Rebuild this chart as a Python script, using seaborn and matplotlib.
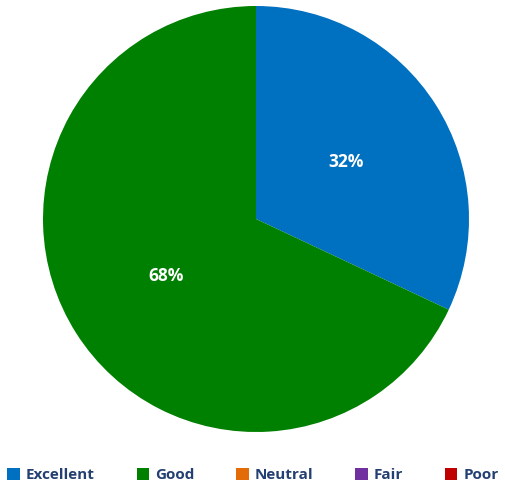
import numpy as np
import matplotlib.pyplot as plt
import seaborn as sns

# rating categories and their share
categories = ["Excellent", "Good", "Neutral", "Fair", "Poor"]
shares = [32, 68, 0, 0, 0]
colors = ["#0070C0", "#008000", "#E36C09", "#7030A0", "#C00000"]

sns.set_style("white")
plt.rcParams["font.family"] = ["Open Sans", "DejaVu Sans"]

fig = plt.figure(figsize=(5.06, 4.84), dpi=100)
ax = fig.add_axes([43 / 506, 52 / 484, 426 / 506, 426 / 484])

def pct(v):
    return f"{v:.0f}%" if v > 0.5 else ""

wedges, texts, autotexts = ax.pie(
    shares, colors=sns.color_palette(colors), startangle=90, counterclock=False,
    autopct=pct, pctdistance=0.5, radius=1.0,
    wedgeprops=dict(linewidth=0),
    textprops=dict(color="white", fontsize=12.5, fontweight="bold"),
)
ax.set_xlim(-1, 1)
ax.set_ylim(-1, 1)
ax.set_aspect("equal")

leg = fig.legend(wedges, categories, loc="lower center", bbox_to_anchor=(0.5, -0.025),
                 ncol=5, frameon=False, handlelength=0.8, handleheight=0.8,
                 handletextpad=0.4, columnspacing=2.75,
                 prop=dict(size=11, weight="bold"))
for t in leg.get_texts():
    t.set_color("#243F72")

fig.savefig("out.png", dpi=100)
